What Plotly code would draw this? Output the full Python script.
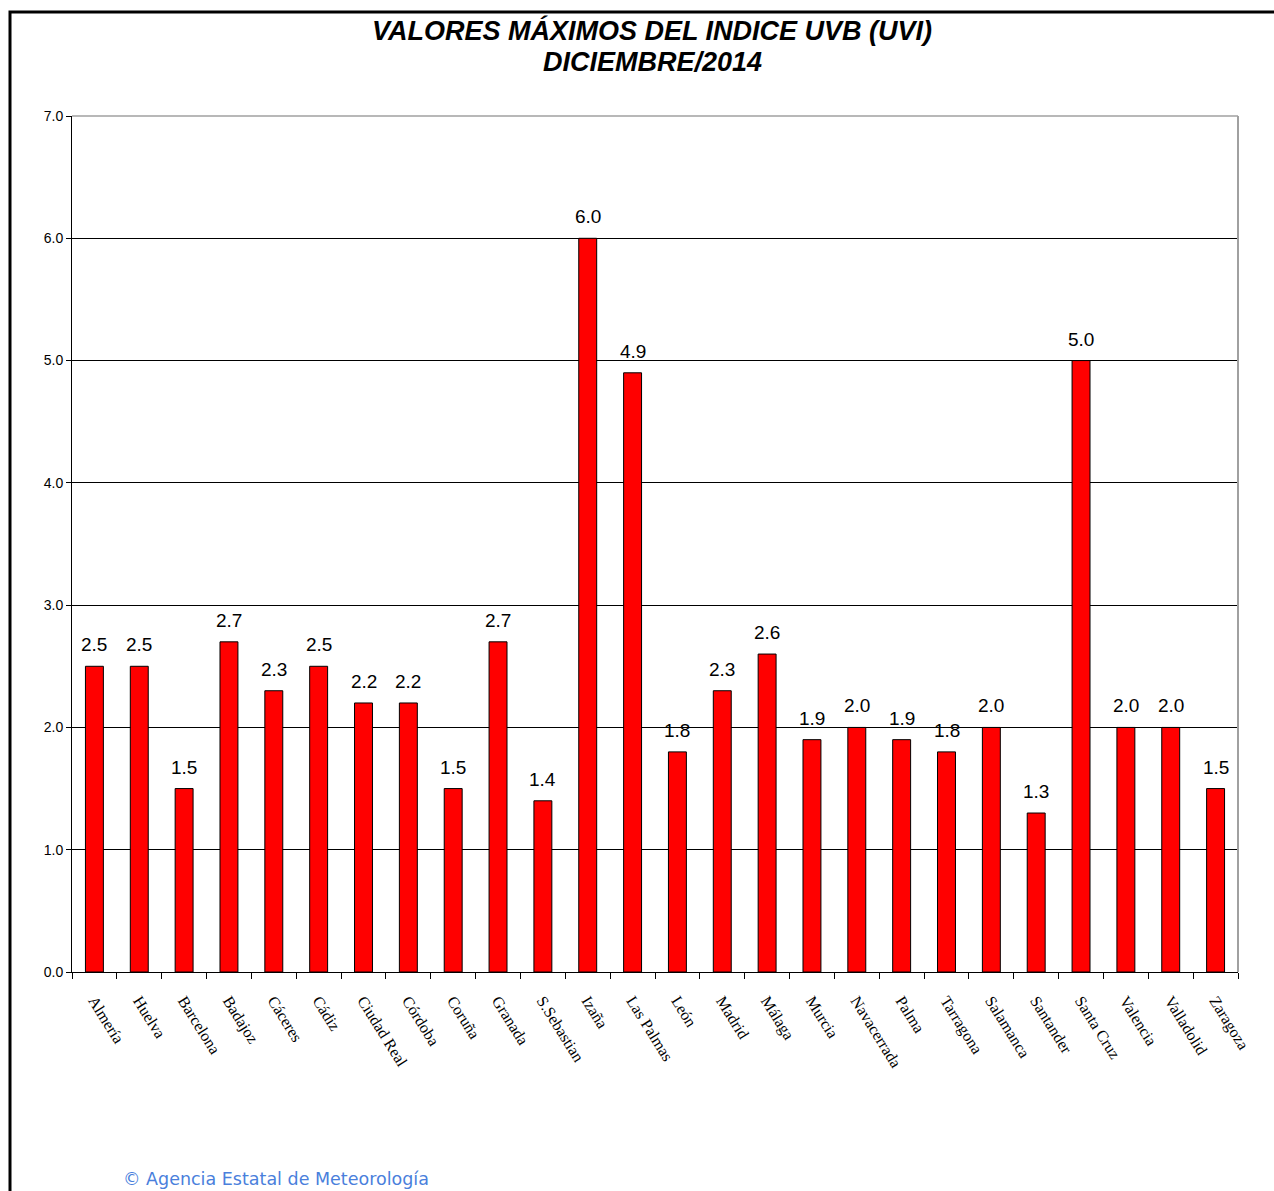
import plotly.graph_objects as go

# Monthly maximum UV index per station
stations = ["Almería", "Huelva", "Barcelona", "Badajoz", "Cáceres", "Cádiz",
            "Ciudad Real", "Córdoba", "Coruña", "Granada", "S.Sebastian", "Izaña",
            "Las Palmas", "León", "Madrid", "Málaga", "Murcia", "Navacerrada",
            "Palma", "Tarragona", "Salamanca", "Santander", "Santa Cruz",
            "Valencia", "Valladolid", "Zaragoza"]
uvi_max = [2.5, 2.5, 1.5, 2.7, 2.3, 2.5, 2.2, 2.2, 1.5, 2.7, 1.4, 6.0,
           4.9, 1.8, 2.3, 2.6, 1.9, 2.0, 1.9, 1.8, 2.0, 1.3, 5.0,
           2.0, 2.0, 1.5]
y_ticks = [0, 1, 2, 3, 4, 5, 6, 7]
title_lines = ["VALORES MÁXIMOS DEL INDICE UVB (UVI)", "DICIEMBRE/2014"]

W, H = 1274, 1191
L, R, T, B = 72, 36, 116, 219
pw, ph = W - L - R, H - T - B


def px_to_paper_x(px):
    return (px - L) / pw


def px_to_paper_y(py):
    return (H - B - py) / ph


fig = go.Figure(go.Bar(
    x=stations, y=uvi_max,
    marker=dict(color="#ff0000", line=dict(color="#000000", width=1)),
    width=0.4,
))

# value labels above each bar
value_labels = [
    dict(x=s, y=v, xref="x", yref="y", text=f"{v:.1f}",
         showarrow=False, xanchor="center", yanchor="bottom", yshift=9,
         font=dict(family="Arial, Liberation Sans", size=19, color="#000000"))
    for s, v in zip(stations, uvi_max)
]

# two-line bold italic heading
heading = [
    dict(text=f"<b><i>{line}</i></b>", xref="paper", yref="paper",
         x=px_to_paper_x(652), y=px_to_paper_y(cy),
         xanchor="center", yanchor="middle", showarrow=False,
         font=dict(family="Arial, Liberation Sans", size=27, color="#000000"))
    for line, cy in zip(title_lines, [31, 62])
]

fig.update_layout(
    width=W, height=H,
    margin=dict(l=L, r=R, t=T, b=B),
    paper_bgcolor="white", plot_bgcolor="white",
    showlegend=False,
    xaxis=dict(
        type="category",
        tickangle=58,
        tickfont=dict(family="Liberation Serif, Times New Roman", size=16, color="#000000"),
        ticklabelstandoff=12,
        showline=True, linecolor="#000000", linewidth=1,
        ticks="outside", ticklen=6, tickcolor="#000000",
        tickson="boundaries",
        showgrid=False,
    ),
    yaxis=dict(
        range=[0, 7],
        tickvals=y_ticks,
        ticktext=[f"{v:.1f}" for v in y_ticks],
        tickfont=dict(family="Arial, Liberation Sans", size=14, color="#000000"),
        showline=True, linecolor="#000000", linewidth=1,
        ticks="outside", ticklen=5, tickcolor="#000000",
        showgrid=True, gridcolor="#000000", gridwidth=1,
        zeroline=False,
    ),
    shapes=[
        # plot-area top and right borders
        dict(type="line", xref="paper", yref="paper", x0=0, x1=1, y0=1, y1=1,
             line=dict(color="#a0a0a0", width=1.5)),
        dict(type="line", xref="paper", yref="paper", x0=1, x1=1, y0=0, y1=1,
             line=dict(color="#a0a0a0", width=2)),
        # outer frame
        dict(type="rect", xref="paper", yref="paper",
             x0=px_to_paper_x(10), x1=px_to_paper_x(1290),
             y0=px_to_paper_y(1210), y1=px_to_paper_y(12),
             line=dict(color="#000000", width=3), fillcolor="rgba(0,0,0,0)"),
    ],
    annotations=heading + value_labels + [
        dict(text="© Agencia Estatal de Meteorología",
             xref="paper", yref="paper",
             x=px_to_paper_x(121), y=px_to_paper_y(1179),
             xanchor="left", yanchor="middle", showarrow=False,
             font=dict(family="Verdana, DejaVu Sans", size=17.5, color="#4a7fdc")),
    ],
)

fig.write_html("out.html")
